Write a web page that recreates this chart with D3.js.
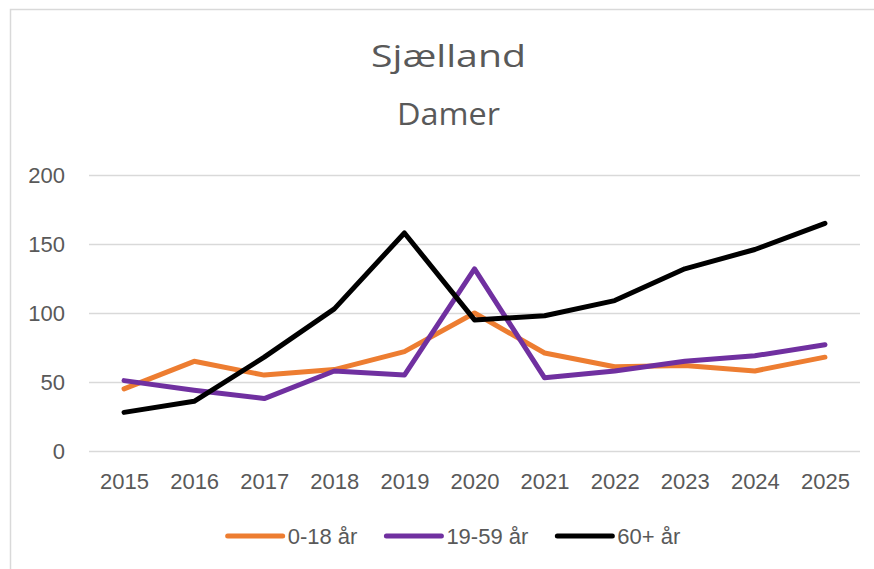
<html>
<head>
<script src="https://d3js.org/d3.v7.min.js"></script>
<style>
    body { margin: 0; background: #fff; }
    .tick text { font-family: "Liberation Sans", Arial, sans-serif; }
</style>
</head>
<body>
<div id="chart"></div>
<script>
    // values
    let years = ["2015", "2016", "2017", "2018", "2019", "2020", "2021", "2022", "2023", "2024", "2025"];
    let age0to18 = [45, 65, 55, 59, 72, 100, 71, 61, 62, 58, 68];
    let age19to59 = [51, 44, 38, 58, 55, 132, 53, 58, 65, 69, 77];
    let age60plus = [28, 36, 68, 103, 158, 95, 98, 109, 132, 146, 165];
    let seriesNames = ["0-18 år", "19-59 år", "60+ år"];
    let yTicks = [0, 50, 100, 150, 200];
    let titleLines = ["Sjælland", "Damer"];

    let width = 874, height = 569;
    let margin = {top: 175, right: 14, bottom: 118, left: 89};
    let textColor = "#595959";
    let colors = ["#ED7D31", "#7030A0", "#000000"];
    let titleWidths = [155, 103]; // measured widths of the two title lines

    let series = [age0to18, age19to59, age60plus].map((vals, i) => ({
        name: seriesNames[i], color: colors[i], values: vals
    }));

    let svg = d3.select("#chart").append("svg")
        .attr("width", width)
        .attr("height", height);

    // chart area border (runs off the right and bottom edge)
    svg.append("rect")
        .attr("x", 10.5).attr("y", 9.5)
        .attr("width", 900).attr("height", 600)
        .attr("fill", "none")
        .attr("stroke", "#d9d9d9")
        .attr("stroke-width", 1.5);

    let x = d3.scalePoint()
        .domain(years)
        .range([margin.left, width - margin.right])
        .padding(0.5);

    let y = d3.scaleLinear()
        .domain([0, 200])
        .range([height - margin.bottom, margin.top]);

    // title
    svg.append("g").selectAll("text")
        .data(titleLines)
        .join("text")
        .attr("x", 448.5)
        .attr("y", (d, i) => 67 + i * 58)
        .attr("text-anchor", "middle")
        .attr("font-family", "'Open Sans', Lato, sans-serif")
        .attr("font-size", 31)
        .attr("textLength", (d, i) => titleWidths[i])
        .attr("lengthAdjust", "spacingAndGlyphs")
        .attr("fill", textColor)
        .text(d => d);

    // y axis with gridlines
    let yAxis = svg.append("g")
        .attr("transform", `translate(${margin.left},0)`)
        .call(d3.axisLeft(y)
            .tickValues(yTicks)
            .tickSize(-(width - margin.left - margin.right))
            .tickPadding(24));
    yAxis.select(".domain").remove();
    yAxis.selectAll(".tick line")
        .attr("stroke", "#d9d9d9")
        .attr("stroke-width", 1.5);
    yAxis.selectAll(".tick text")
        .attr("fill", textColor)
        .attr("font-size", 22);

    // x axis labels
    let xAxis = svg.append("g")
        .attr("transform", `translate(0,${height - margin.bottom})`)
        .call(d3.axisBottom(x).tickSize(0).tickPadding(22));
    xAxis.select(".domain").remove();
    xAxis.selectAll(".tick text")
        .attr("fill", textColor)
        .attr("font-size", 22);

    // lines
    let line = d3.line()
        .x((d, i) => x(years[i]))
        .y(d => y(d));

    svg.append("g").selectAll("path")
        .data(series)
        .join("path")
        .attr("d", d => line(d.values))
        .attr("fill", "none")
        .attr("stroke", d => d.color)
        .attr("stroke-width", 5)
        .attr("stroke-linejoin", "round")
        .attr("stroke-linecap", "round");

    // legend
    let legend = svg.append("g");
    let items = legend.selectAll("g")
        .data(series)
        .join("g");
    items.append("line")
        .attr("x1", 0).attr("x2", 55)
        .attr("y1", 0).attr("y2", 0)
        .attr("stroke", d => d.color)
        .attr("stroke-width", 5)
        .attr("stroke-linecap", "round");
    items.append("text")
        .attr("x", 60)
        .attr("y", 8)
        .attr("font-family", "'Liberation Sans', Arial, sans-serif")
        .attr("font-size", 22)
        .attr("fill", textColor)
        .text(d => d.name);

    let offset = 0;
    let widths = [];
    items.each(function() {
        widths.push(60 + d3.select(this).select("text").node().getComputedTextLength());
    });
    let gap = 29;
    let total = d3.sum(widths) + gap * (widths.length - 1);
    let startX = 454 - total / 2;
    items.attr("transform", (d, i) => {
        let tx = startX + offset;
        offset += widths[i] + gap;
        return `translate(${tx},536)`;
    });
</script>
</body>
</html>
